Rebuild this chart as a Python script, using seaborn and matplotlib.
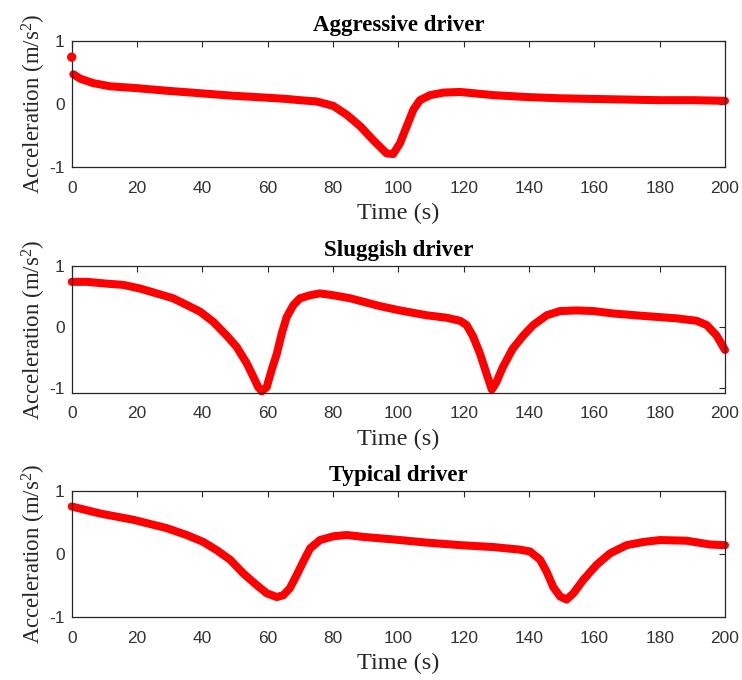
import matplotlib
matplotlib.use("Agg")
import matplotlib.pyplot as plt
import numpy as np
import pandas as pd
import seaborn as sns

# ---------------- data ----------------
aggr_time = [0, 0.5, 2.6, 6.6, 11.7, 20, 29, 39.3, 49.5, 59.7, 65.8, 69.9, 75, 80.1,
             84.2, 88.3, 92.3, 96.4, 98.4, 100.5, 102.5, 104.6, 106.6, 109.7, 113.8,
             118.9, 129.1, 139.3, 149.5, 159.7, 169.9, 180, 190.3, 200]
aggr_acc = [0.74, 0.47, 0.40, 0.33, 0.28, 0.25, 0.21, 0.17, 0.13, 0.10, 0.08, 0.06, 0.04,
            -0.03, -0.17, -0.35, -0.57, -0.78, -0.79, -0.62, -0.36, -0.09, 0.06, 0.14,
            0.18, 0.19, 0.14, 0.11, 0.09, 0.08, 0.07, 0.06, 0.06, 0.05]

slug_time = [0, 4.6, 10.7, 15.8, 20.9, 26, 31, 35.2, 39.3, 43.4, 47.4, 50.5, 53.6, 55.6,
             57.1, 58.2, 59.7, 61.2, 62.8, 64.3, 65.8, 67.9, 69.9, 73, 76, 80, 85.2,
             89.5, 94.4, 100.5, 108.7, 114.8, 118.9, 120.9, 122.9, 125, 127, 128.6,
             130, 132, 135, 138.3, 141.3, 145.4, 149.5, 154.6, 159.7, 165.8, 175,
             185.2, 191.3, 194.4, 197.4, 200]
slug_acc = [0.74, 0.74, 0.71, 0.69, 0.63, 0.55, 0.47, 0.36, 0.25, 0.08, -0.14, -0.33,
            -0.60, -0.82, -0.99, -1.06, -0.99, -0.71, -0.44, -0.11, 0.16, 0.36, 0.47,
            0.52, 0.55, 0.52, 0.47, 0.41, 0.34, 0.27, 0.19, 0.15, 0.10, 0.03, -0.16,
            -0.44, -0.77, -1.03, -0.91, -0.66, -0.36, -0.14, 0.03, 0.19, 0.26, 0.27,
            0.26, 0.22, 0.18, 0.14, 0.10, 0.03, -0.14, -0.38]

typ_time = [0, 8.7, 18.9, 29, 35.2, 40.3, 44.4, 48.5, 52.6, 56.6, 59.7, 62.8, 64.8,
            66.8, 68.9, 70.9, 73, 76, 80.1, 84.2, 89.3, 98.5, 108.7, 118.9, 129, 137,
            140.3, 143.4, 145.4, 147.4, 149.5, 151.5, 153.6, 156.6, 160.7, 164.8,
            169.9, 175, 180.1, 188.3, 195.4, 200]
typ_acc = [0.75, 0.64, 0.54, 0.41, 0.30, 0.19, 0.06, -0.09, -0.31, -0.49, -0.62, -0.68,
           -0.65, -0.54, -0.33, -0.12, 0.09, 0.22, 0.28, 0.30, 0.27, 0.23, 0.18, 0.14,
           0.11, 0.07, 0.04, -0.09, -0.28, -0.52, -0.67, -0.72, -0.62, -0.41, -0.17,
           0.01, 0.14, 0.19, 0.22, 0.21, 0.15, 0.14]

titles = ["Aggressive driver", "Sluggish driver", "Typical driver"]
x_ticks = [0, 20, 40, 60, 80, 100, 120, 140, 160, 180, 200]
y_ticks = [-1, 0, 1]
y_limits = [(-1, 1), (-1.08, 1), (-1, 1)]

# ---------------- style ----------------
sns.set_theme(style="white")
plt.rcParams["font.family"] = ["Liberation Sans", "DejaVu Sans"]
plt.rcParams["mathtext.fontset"] = "custom"
plt.rcParams["mathtext.rm"] = "Liberation Serif"
plt.rcParams["mathtext.it"] = "Liberation Serif:italic"

axis_col = "#262626"
red = "#ff0000"

fig = plt.figure(figsize=(7.42, 6.8), dpi=100)
W, H = 742, 680
left_px, right_px = 71.7, 725
tops = [40.7, 266, 490.7]
heights = 126.6

series = [(aggr_time, aggr_acc), (slug_time, slug_acc), (typ_time, typ_acc)]

for i, (t, a) in enumerate(series):
    top = tops[i]
    ax = fig.add_axes([left_px / W, 1 - (top + heights) / H,
                       (right_px - left_px) / W, heights / H])
    df = pd.DataFrame({"Time": t, "Acc": a})
    if i == 0:
        # first sample is a detached dot, the rest a continuous trace
        sns.lineplot(data=df.iloc[1:], x="Time", y="Acc", ax=ax, color=red,
                     linewidth=5.8, solid_capstyle="round", solid_joinstyle="round")
        sns.scatterplot(data=df.iloc[:1], x="Time", y="Acc", ax=ax, color=red,
                        s=45, edgecolor="none", clip_on=False, zorder=5)
    else:
        sns.lineplot(data=df, x="Time", y="Acc", ax=ax, color=red,
                     linewidth=5.8, solid_capstyle="round", solid_joinstyle="round")
    for line in ax.lines:
        line.set_clip_on(False)
    ax.set_xlim(0, 200)
    ax.set_ylim(*y_limits[i])
    ax.set_xticks(x_ticks)
    ax.set_yticks(y_ticks)
    ax.set_xticklabels([str(v) for v in x_ticks])
    ax.set_yticklabels([str(v) for v in y_ticks])
    ax.tick_params(direction="in", top=True, right=True, length=4, width=0.8,
                   color=axis_col, labelcolor="#333333", labelsize=12.5)
    ax.tick_params(axis="x", pad=10)
    ax.tick_params(axis="y", pad=5)
    for sp in ax.spines.values():
        sp.set_color(axis_col)
        sp.set_linewidth(0.9)
        sp.set_visible(True)
    ax.set_title(titles[i], fontfamily="Liberation Serif", fontweight="bold",
                 fontsize=16.5, color="black", pad=7)
    ax.set_xlabel("Time (s)", fontfamily="Liberation Serif", fontsize=17.5,
                  color=axis_col, labelpad=5)
    ax.set_ylabel("Acceleration (m/s$^2$)", fontfamily="Liberation Serif",
                  fontsize=16.5, color=axis_col, labelpad=1)

fig.savefig("out.png", dpi=100)
